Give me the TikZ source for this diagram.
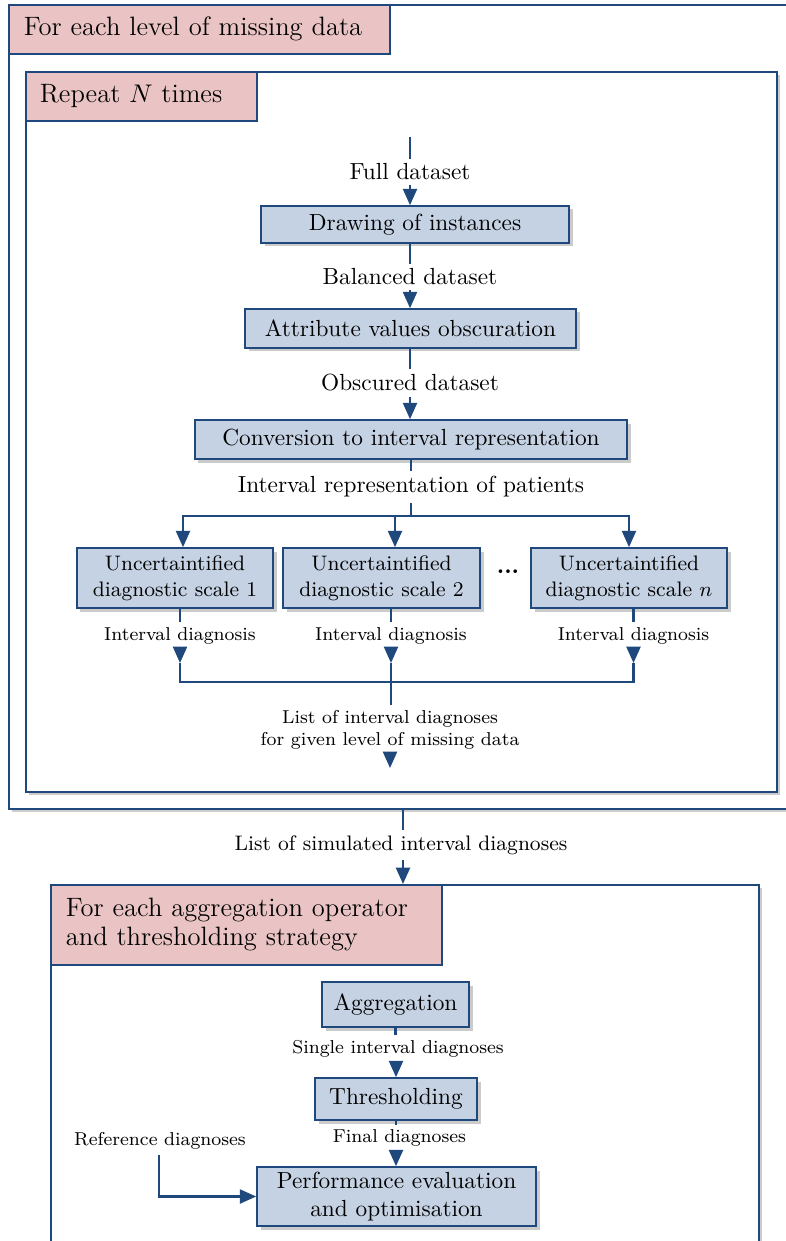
\documentclass[tikz,border=0pt]{standalone}
\usetikzlibrary{arrows.meta,shadows,calc}
\definecolor{bblue}{RGB}{31,73,125}
\definecolor{lblue}{RGB}{197,210,227}
\definecolor{hpink}{RGB}{234,196,196}
\newcommand\pxu{0.429pt}
\begin{document}
\begin{tikzpicture}[x=0.429pt,y=-0.429pt,
  conn/.style={draw=bblue, line width=0.95pt},
  arr/.style={conn, -{Triangle[width=6pt,length=7pt]}},
  shad/.style={drop shadow={shadow xshift=1.5pt, shadow yshift=-1.5pt, fill=black!40}},
  box/.style={draw=bblue, fill=lblue, line width=0.7pt, inner sep=0pt, align=center, shad},
  frame/.style={draw=bblue, fill=white, line width=0.7pt, inner sep=0pt, anchor=north west},
  hdr/.style={draw=bblue, fill=hpink, line width=0.7pt, anchor=north west, align=left,
    font=\fontsize{11.4}{12.4}\selectfont, inner ysep=0pt},
  lab/.style={inner sep=2pt},
  slab/.style={inner sep=2pt, font=\footnotesize, align=center},
]
\useasboundingbox (0,0) rectangle (786,1241);
\clip (0,0) rectangle (786,1241);

% ---------- outer loop frame ----------
\node[frame, shad, minimum width={792*\pxu}, minimum height={804*\pxu}] (outer) at (8,4) {};
\node[hdr, inner xsep={15*\pxu}, text width={351*\pxu}, minimum height={49*\pxu}] (h1) at (8,4) {For each level of missing data};
\node[frame, shad, minimum width={751*\pxu}, minimum height={720*\pxu}] (inner) at (25,71) {};
\node[hdr, inner xsep={14*\pxu}, text width={203*\pxu}, minimum height={49*\pxu}] (h2) at (25,71) {Repeat $N$ times};

% ---------- boxes ----------
\node[box, minimum width={308*\pxu}, minimum height={37*\pxu}] (d1) at (415,224.5) {Drawing of instances};
\node[box, minimum width={331*\pxu}, minimum height={39*\pxu}] (d2) at (410.5,328.5) {Attribute values obscuration};
\node[box, minimum width={432*\pxu}, minimum height={39*\pxu}] (d3) at (411,439.5) {Conversion to interval representation};
\node[box, font=\fontsize{9}{11.2}\selectfont, minimum width={196*\pxu}, minimum height={60*\pxu}] (s1) at (175,578) {Uncertaintified\\diagnostic scale 1};
\node[box, font=\fontsize{9}{11.2}\selectfont, minimum width={197*\pxu}, minimum height={60*\pxu}] (s2) at (381.5,578) {Uncertaintified\\diagnostic scale 2};
\node[box, font=\fontsize{9}{11.2}\selectfont, minimum width={196*\pxu}, minimum height={60*\pxu}] (sn) at (629,578) {Uncertaintified\\diagnostic scale $n$};
\node[font=\bfseries] (dots) at (508,572) {...};

% ---------- labels ----------
\coordinate (top) at (410,137);
\node[lab] (l1) at (410,172) {Full dataset};
\node[lab] (l2) at (410,277) {Balanced dataset};
\node[lab] (l3) at (410,383) {Obscured dataset};
\node[lab] (l4) at (411,487) {Interval representation of patients};
\node[slab] (i1) at (180,636) {Interval diagnosis};
\node[slab] (i2) at (391,636) {Interval diagnosis};
\node[slab] (in) at (633.5,636) {Interval diagnosis};
\node[slab] (ll) at (390,729.5) {List of interval diagnoses\\for given level of missing data};

% ---------- connectors ----------
\draw[conn] (top) -- (l1.north);
\draw[arr] (l1.south) -- (l1.south |- d1.north);
\draw[conn] (l2 |- d1.south) -- (l2.north);
\draw[arr] (l2.south) -- (l2.south |- d2.north);
\draw[conn] (l3 |- d2.south) -- (l3.north);
\draw[arr] (l3.south) -- (l3.south |- d3.north);
\draw[conn] (l4 |- d3.south) -- (l4.north);
\coordinate (sp) at (411,516);
\draw[conn] (l4.south) -- (sp);
\draw[arr] (sp) -| ($(s1.north)+(8,0)$);
\draw[arr] (sp) -| ($(s2.north)+(13.5,0)$);
\draw[arr] (sp) -| (sn.north);

\draw[conn] (i1 |- s1.south) -- (i1.north);
\draw[conn] (i2 |- s2.south) -- (i2.north);
\draw[conn] (in |- sn.south) -- (in.north);
\coordinate (c1) at (180,663);
\coordinate (c2) at (391,663);
\coordinate (cn) at (633.5,663);
\coordinate (j1) at (180,682);
\coordinate (j2) at (391,682);
\coordinate (jn) at (633.5,682);
\draw[arr] (i1.south) -- (c1);
\draw[arr] (i2.south) -- (c2);
\draw[arr] (in.south) -- (cn);
\draw[conn, line join=miter] (c1) -- (j1) -- (jn) -- (cn);
\draw[conn] (c2) -- (ll.north -| c2);
\coordinate (lend) at (390,768);
\draw[arr] (ll.south -| lend) -- (lend);

% ---------- between loops ----------
\coordinate (o1) at (403,808);
\coordinate (o2) at (403,884);
\node[lab, font=\small] (ls) at (401,845) {List of simulated interval diagnoses};
\draw[conn] (o1) -- (ls.north -| o1);
\draw[arr] (ls.south -| o2) -- (o2);

% ---------- second loop frame ----------
\node[frame, shad, minimum width={708*\pxu}, minimum height={400*\pxu}] (bottom) at (50,884) {};
\node[hdr, inner xsep={15*\pxu}, text width={361*\pxu}, minimum height={80*\pxu}] (h3) at (50,884) {For each aggregation operator\\and thresholding strategy};

\node[box, minimum width={147*\pxu}, minimum height={45*\pxu}] (ag) at (395.5,1004.5) {Aggregation};
\node[box, minimum width={162*\pxu}, minimum height={42*\pxu}] (th) at (396,1099) {Thresholding};
\node[box, minimum width={279*\pxu}, minimum height={59*\pxu}] (pe) at (396.5,1196.5) {Performance evaluation\\and optimisation};

\node[slab] (la) at (398,1049) {Single interval diagnoses};
\node[slab] (lf) at (399.5,1138) {Final diagnoses};
\node[slab] (lr) at (160,1141) {Reference diagnoses};

\draw[conn] (ag.south) -- (ag.south |- la.north);
\draw[arr] (th.north |- la.south) -- (th.north);
\draw[conn] (th.south) -- (th.south |- lf.north);
\draw[arr] (th.south |- lf.south) -- (th.south |- pe.north);
\draw[arr] ($(lr.south)+(-1,0)$) |- (pe.west);
\end{tikzpicture}
\end{document}
